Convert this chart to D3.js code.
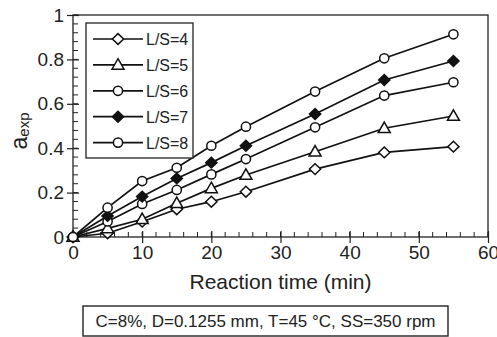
<!DOCTYPE html>
<html>
<head>
<meta charset="utf-8">
<script src="https://cdn.jsdelivr.net/npm/d3@7"></script>
<style>
  body { margin: 0; background: #fff; }
  svg { display: block; font-family: "Liberation Sans", Arial, sans-serif; }
</style>
</head>
<body>
<script>
// reaction time (min)
var times = [0, 5, 10, 15, 20, 25, 35, 45, 55];
var seriesNames = ["L/S=4", "L/S=5", "L/S=6", "L/S=7", "L/S=8"];
var seriesShapes = ["diamond", "triangle", "circle", "diamondFilled", "circle"];
var ls4 = [0, 0.017, 0.069, 0.125, 0.159, 0.204, 0.306, 0.381, 0.407];
var ls5 = [0, 0.039, 0.080, 0.152, 0.219, 0.279, 0.384, 0.490, 0.545];
var ls6 = [0, 0.070, 0.149, 0.212, 0.282, 0.351, 0.494, 0.637, 0.697];
var ls7 = [0, 0.095, 0.182, 0.264, 0.335, 0.411, 0.554, 0.707, 0.793];
var ls8 = [0, 0.132, 0.252, 0.312, 0.411, 0.497, 0.655, 0.805, 0.913];
var seriesValues = [ls4, ls5, ls6, ls7, ls8];
var xTicks = [0, 10, 20, 30, 40, 50, 60];
var yTicks = [0, 0.2, 0.4, 0.6, 0.8, 1];
var xLabel = "Reaction time (min)";
var footNote = "C=8%, D=0.1255 mm, T=45 °C, SS=350 rpm";

var width = 497, height = 337;
var margin = {top: 15, right: 9, bottom: 100, left: 73},
    innerWidth = width - margin.left - margin.right,
    innerHeight = height - margin.top - margin.bottom;

var svg = d3.select("body").append("svg")
    .attr("width", width)
    .attr("height", height);

var plot = svg.append("g")
    .attr("transform", "translate(" + margin.left + "," + margin.top + ")");

var xScale = d3.scaleLinear().domain([0, 60]).range([0, innerWidth]);
var yScale = d3.scaleLinear().domain([0, 1]).range([innerHeight, 0]);

// frame
plot.append("rect")
    .attr("width", innerWidth)
    .attr("height", innerHeight)
    .attr("fill", "none")
    .attr("stroke", "#222")
    .attr("stroke-width", 1.3);

// minor ticks (inside)
plot.append("g").selectAll("line")
    .data(d3.range(0, 60.01, 2))
    .join("line")
    .attr("x1", d => xScale(d)).attr("x2", d => xScale(d))
    .attr("y1", innerHeight).attr("y2", innerHeight - 5)
    .attr("stroke", "#222").attr("stroke-width", 1);
plot.append("g").selectAll("line")
    .data(d3.range(0, 1.001, 0.04))
    .join("line")
    .attr("x1", 0).attr("x2", 5)
    .attr("y1", d => yScale(d)).attr("y2", d => yScale(d))
    .attr("stroke", "#222").attr("stroke-width", 1);

// x axis
var xAxis = d3.axisBottom(xScale).tickValues(xTicks).tickSize(6).tickPadding(3).tickFormat(d3.format("d"));
var xg = plot.append("g")
    .attr("transform", "translate(0," + innerHeight + ")")
    .call(xAxis);
xg.select(".domain").remove();
xg.selectAll(".tick line").attr("y1", -6).attr("stroke", "#222").attr("stroke-width", 1.2);
xg.selectAll(".tick text").attr("font-size", 19).attr("fill", "#222").attr("font-family", null);

// y axis
var yAxis = d3.axisLeft(yScale).tickValues(yTicks).tickSize(6).tickPadding(3).tickFormat(d => d);
var yg = plot.append("g").call(yAxis);
yg.select(".domain").remove();
yg.selectAll(".tick line").attr("x1", 6).attr("stroke", "#222").attr("stroke-width", 1.2);
yg.selectAll(".tick text").attr("font-size", 19).attr("fill", "#222").attr("font-family", null);

// axis labels
svg.append("text")
    .attr("x", margin.left + innerWidth / 2)
    .attr("y", 289)
    .attr("text-anchor", "middle")
    .attr("font-size", 21)
    .attr("fill", "#222")
    .text(xLabel);

var ylab = svg.append("text")
    .attr("transform", "translate(27,131) rotate(-90)")
    .attr("text-anchor", "middle")
    .attr("fill", "#222");
ylab.append("tspan").attr("font-size", 23).text("a");
ylab.append("tspan").attr("font-size", 15).attr("dy", 2).text("exp");

// marker shapes
function markerPath(shape) {
    if (shape === "triangle") return "M0,-6.2L6,4.3L-6,4.3Z";
    if (shape === "diamond" || shape === "diamondFilled") return "M0,-5.4L5.6,0L0,5.4L-5.6,0Z";
    return d3.arc()({innerRadius: 0, outerRadius: 4.6, startAngle: 0, endAngle: 2 * Math.PI});
}

function drawMarker(sel, shape) {
    sel.append("path")
        .attr("d", markerPath(shape))
        .attr("fill", shape === "diamondFilled" ? "#111" : "#fff")
        .attr("stroke", "#111")
        .attr("stroke-width", 1.5);
}

var line = d3.line()
    .x(d => xScale(d.t))
    .y(d => yScale(d.v));

var lines = plot.append("g");
seriesValues.forEach((vals, i) => {
    var pts = times.map((t, j) => ({t: t, v: vals[j]}));
    lines.append("path")
        .datum(pts)
        .attr("fill", "none")
        .attr("stroke", "#111")
        .attr("stroke-width", 1.7)
        .attr("d", line);
    pts.forEach(p => {
        var g = lines.append("g")
            .attr("transform", "translate(" + xScale(p.t) + "," + yScale(p.v) + ")");
        drawMarker(g, seriesShapes[i]);
    });
});

// legend
var legend = svg.append("g");
legend.append("rect")
    .attr("x", 86).attr("y", 23)
    .attr("width", 107).attr("height", 135)
    .attr("fill", "#fff")
    .attr("stroke", "#222")
    .attr("stroke-width", 1.3);
seriesNames.forEach((name, i) => {
    var y = 39 + i * 25.9;
    legend.append("line")
        .attr("x1", 93).attr("x2", 143)
        .attr("y1", y).attr("y2", y)
        .attr("stroke", "#111").attr("stroke-width", 1.7);
    var g = legend.append("g").attr("transform", "translate(118," + y + ")");
    drawMarker(g, seriesShapes[i]);
    legend.append("text")
        .attr("x", 146).attr("y", y + 6)
        .attr("font-size", 16)
        .attr("fill", "#222")
        .text(name);
});

// condition note
svg.append("rect")
    .attr("x", 83).attr("y", 306)
    .attr("width", 365).attr("height", 30)
    .attr("fill", "#fff")
    .attr("stroke", "#222")
    .attr("stroke-width", 1.4);
svg.append("text")
    .attr("x", 265.5).attr("y", 327)
    .attr("text-anchor", "middle")
    .attr("font-size", 17)
    .attr("fill", "#222")
    .text(footNote);
</script>
</body>
</html>
